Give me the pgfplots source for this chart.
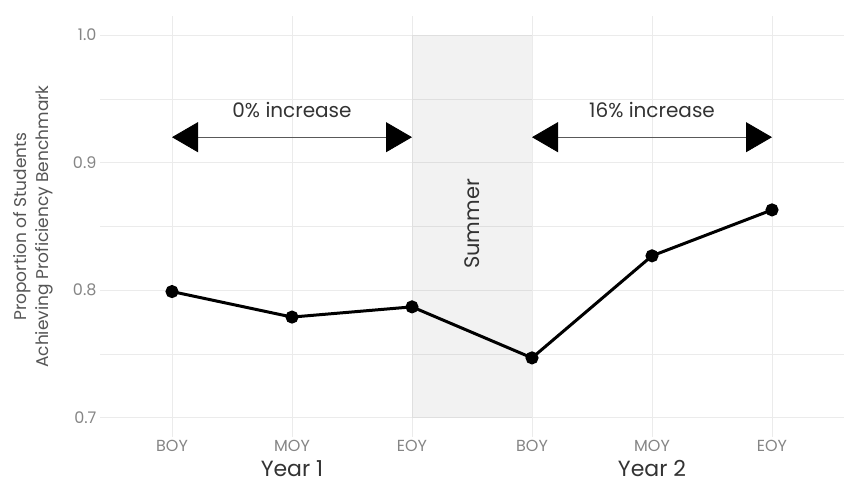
\documentclass[border=0pt]{standalone}
\usepackage{fontspec}
\setmainfont{Poppins}
\usepackage{pgfplots}
\pgfplotsset{compat=1.18}
\usetikzlibrary{arrows.meta}
\definecolor{gridc}{HTML}{EBEBEB}
\definecolor{tickc}{HTML}{858585}
\definecolor{labc}{HTML}{555555}
\definecolor{txtc}{HTML}{333333}
\begin{document}
\begin{tikzpicture}
\useasboundingbox (0,0) rectangle (848pt,486pt);
\begin{axis}[
  at={(100pt,49pt)}, anchor=south west,
  scale only axis, width=744pt, height=421pt,
  xmin=0.4, xmax=6.6, ymin=0.685, ymax=1.015,
  xtick={1,...,6}, xticklabels={BOY,MOY,EOY,BOY,MOY,EOY},
  ytick={0.7,0.8,0.9,1.0}, minor ytick={0.75,0.85,0.95},
  /pgf/number format/assume math mode=true,
  yticklabel style={/pgf/number format/.cd, fixed, fixed zerofill, precision=1},
  ticklabel style={font=\fontsize{16}{19}\selectfont, text=tickc},
  xmajorgrids, ymajorgrids, yminorgrids,
  major grid style={gridc, line width=1pt},
  minor grid style={gridc, line width=0.8pt},
  axis line style={draw=none}, tick style={draw=none},
  clip=false,
]
\fill[black, fill opacity=0.05] (axis cs:3,0.7) rectangle (axis cs:4,1.0);
\addplot[black, line width=3pt, mark=*, mark size=5pt] coordinates {
  (1,0.799) (2,0.779) (3,0.787) (4,0.747) (5,0.827) (6,0.863)
};
\draw[{Triangle[width=30pt,length=26pt,color=black]}-{Triangle[width=30pt,length=26pt,color=black]}, line width=0.8pt, black!65]
  (axis cs:1,0.92) -- (axis cs:3,0.92);
\draw[{Triangle[width=30pt,length=26pt,color=black]}-{Triangle[width=30pt,length=26pt,color=black]}, line width=0.8pt, black!65]
  (axis cs:4,0.92) -- (axis cs:6,0.92);
\node[text=txtc, font=\fontsize{20}{24}\selectfont] at (axis cs:2,0.941) {0\% increase};
\node[text=txtc, font=\fontsize{20}{24}\selectfont] at (axis cs:5,0.941) {16\% increase};
\node[text=txtc, font=\fontsize{21}{25}\selectfont, rotate=90] at (axis cs:3.5,0.852) {Summer};
\node[text=txtc, font=\fontsize{22}{26}\selectfont, inner sep=0pt, anchor=base] at ([yshift=-40pt]axis cs:2,0.685) {Year 1};
\node[text=txtc, font=\fontsize{22}{26}\selectfont, inner sep=0pt, anchor=base] at ([yshift=-40pt]axis cs:5,0.685) {Year 2};
\node[text=labc, font=\fontsize{17}{22}\selectfont, rotate=90, align=center]
  at ([xshift=-67pt]axis description cs:0,0.5) {Proportion of Students\\Achieving Proficiency Benchmark};
\end{axis}
\end{tikzpicture}
\end{document}
